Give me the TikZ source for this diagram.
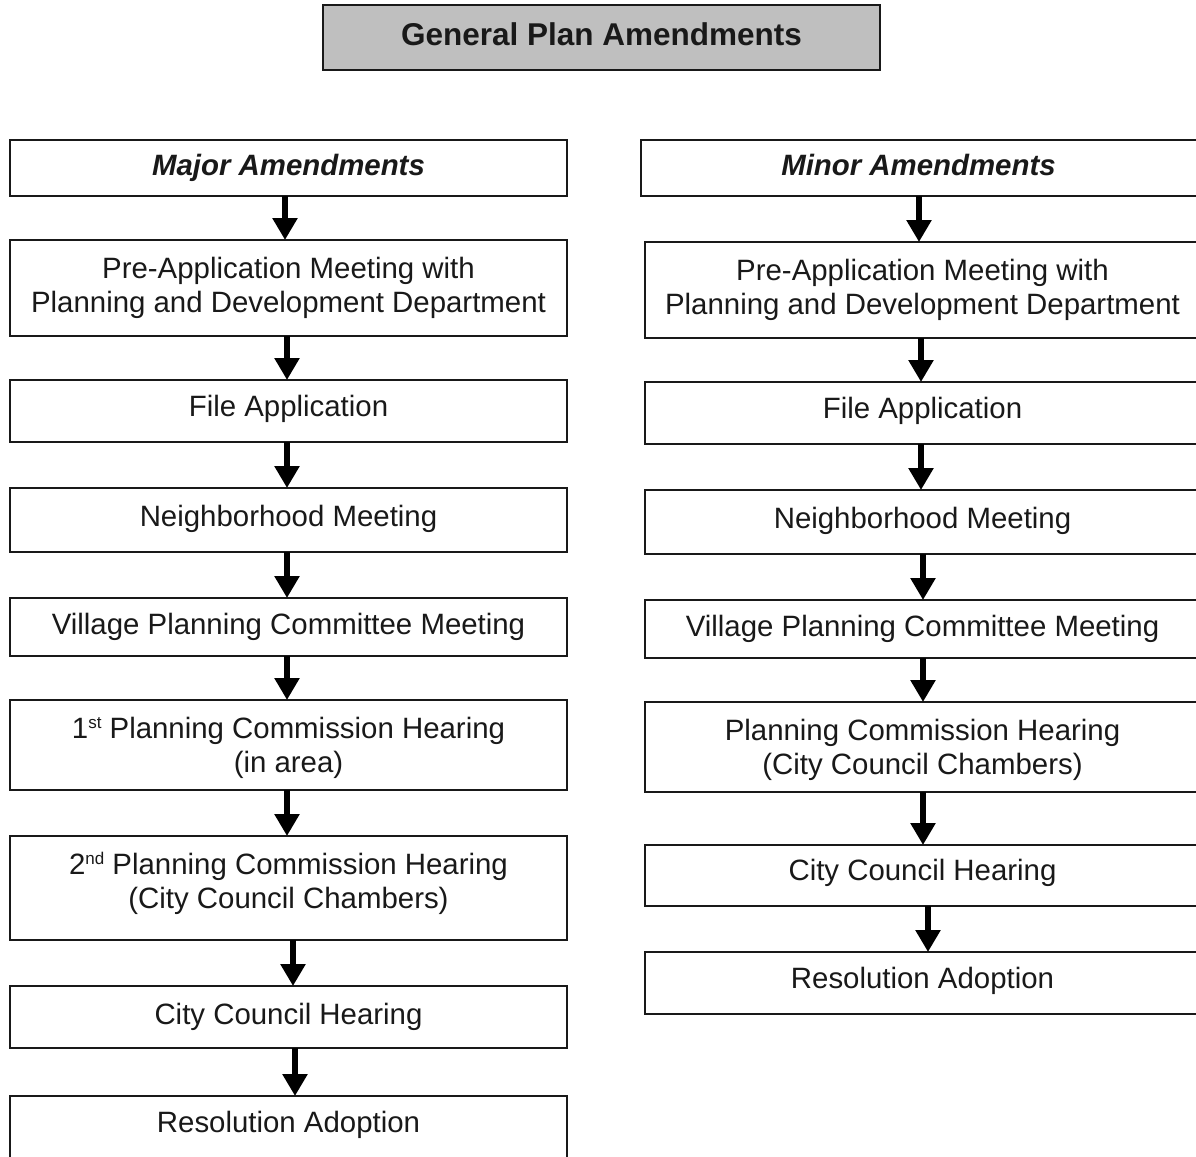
\documentclass[tikz,border=0pt]{standalone}
\usepackage{fontspec}
\setmainfont{Liberation Sans}
\usetikzlibrary{arrows.meta}
\newcommand{\supr}[1]{\raisebox{0.62ex}{\fontsize{17}{17}\selectfont #1}}
\tikzset{
  box/.style={draw=black!90, line width=2pt, inner sep=0pt, outer sep=0pt, fill=white},
  titlebox/.style={box, fill=black!25, line width=2.2pt},
  txt/.style={font=\fontsize{29.4}{34}\selectfont, align=center, inner sep=0pt, anchor=base, text=black!90},
  headtxt/.style={txt, font=\fontsize{29.4}{34}\selectfont\bfseries\itshape},
  flow/.style={line width=6pt, draw=black, -{Triangle[width=24pt,length=22pt]}}
}
\begin{document}
\begin{tikzpicture}[x=1pt,y=-1pt]
\clip (0,0) rectangle (1196,1156);
\fill[white] (0,0) rectangle (1196,1156);
% title
\node[titlebox, minimum width=557pt, minimum height=65pt] (T) at (601.5,37.5) {};
\node[txt, font=\fontsize{31.5}{36}\selectfont\bfseries] (tT) at (601.5,45.5) {General Plan Amendments};
% left column boxes
\node[box, minimum width=557pt, minimum height=56pt]  (L0) at (288.5,168) {};
\node[box, minimum width=557pt, minimum height=96pt]  (L1) at (288.5,288) {};
\node[box, minimum width=557pt, minimum height=62pt]  (L2) at (288.5,411) {};
\node[box, minimum width=557pt, minimum height=64pt]  (L3) at (288.5,520) {};
\node[box, minimum width=557pt, minimum height=58pt]  (L4) at (288.5,627) {};
\node[box, minimum width=557pt, minimum height=90pt]  (L5) at (288.5,745) {};
\node[box, minimum width=557pt, minimum height=104pt] (L6) at (288.5,888) {};
\node[box, minimum width=557pt, minimum height=62pt]  (L7) at (288.5,1017) {};
\node[box, minimum width=557pt, minimum height=80pt]  (L8) at (288.5,1136) {};
% right column boxes
\node[box, minimum width=556pt, minimum height=56pt]  (R0) at (919,168) {};
\node[box, minimum width=556pt, minimum height=96pt]  (R1) at (923,290) {};
\node[box, minimum width=556pt, minimum height=62pt]  (R2) at (923,413) {};
\node[box, minimum width=556pt, minimum height=64pt]  (R3) at (923,522) {};
\node[box, minimum width=556pt, minimum height=58pt]  (R4) at (923,629) {};
\node[box, minimum width=556pt, minimum height=90pt]  (R5) at (923,747) {};
\node[box, minimum width=556pt, minimum height=61pt]  (R6) at (923,875.5) {};
\node[box, minimum width=556pt, minimum height=62pt]  (R7) at (923,983) {};
% left texts
\node[headtxt] (tL0) at (288.5,175) {Major Amendments};
\node[txt] (tL1) at (288.5,312) {Pre-Application Meeting with\\Planning and Development Department};
\node[txt] (tL2) at (288.5,416) {File Application};
\node[txt] (tL3) at (288.5,526) {Neighborhood Meeting};
\node[txt] (tL4) at (288.5,634) {Village Planning Committee Meeting};
\node[txt] (tL5) at (288.5,772) {1\supr{st} Planning Commission Hearing\\(in area)};
\node[txt] (tL6) at (288.5,908) {2\supr{nd} Planning Commission Hearing\\(City Council Chambers)};
\node[txt] (tL7) at (288.5,1024) {City Council Hearing};
\node[txt] (tL8) at (288.5,1132) {Resolution Adoption};
% right texts
\node[headtxt] (tR0) at (918.5,175) {Minor Amendments};
\node[txt] (tR1) at (922.5,314) {Pre-Application Meeting with\\Planning and Development Department};
\node[txt] (tR2) at (922.5,418) {File Application};
\node[txt] (tR3) at (922.5,528) {Neighborhood Meeting};
\node[txt] (tR4) at (922.5,636) {Village Planning Committee Meeting};
\node[txt] (tR5) at (922.5,774) {Planning Commission Hearing\\(City Council Chambers)};
\node[txt] (tR6) at (922.5,880) {City Council Hearing};
\node[txt] (tR7) at (922.5,988) {Resolution Adoption};
% left arrows
\draw[flow] ([xshift=-3.5pt]L0.south) -- ([xshift=-3.5pt]L1.north);
\draw[flow] ([xshift=-1.5pt]L1.south) -- ([xshift=-1.5pt]L2.north);
\draw[flow] ([xshift=-1.5pt]L2.south) -- ([xshift=-1.5pt]L3.north);
\draw[flow] ([xshift=-1.5pt]L3.south) -- ([xshift=-1.5pt]L4.north);
\draw[flow] ([xshift=-1.5pt]L4.south) -- ([xshift=-1.5pt]L5.north);
\draw[flow] ([xshift=-1.5pt]L5.south) -- ([xshift=-1.5pt]L6.north);
\draw[flow] ([xshift=4.5pt]L6.south) -- ([xshift=4.5pt]L7.north);
\draw[flow] ([xshift=6.5pt]L7.south) -- ([xshift=6.5pt]L8.north);
% right arrows
\draw[flow] (R0.south) -- (R0.south |- R1.north);
\draw[flow] ([xshift=-2pt]R1.south) -- ([xshift=-2pt]R2.north);
\draw[flow] ([xshift=-2pt]R2.south) -- ([xshift=-2pt]R3.north);
\draw[flow] (R3.south) -- (R4.north);
\draw[flow] (R4.south) -- (R5.north);
\draw[flow] (R5.south) -- (R6.north);
\draw[flow] ([xshift=5pt]R6.south) -- ([xshift=5pt]R7.north);
\end{tikzpicture}
\end{document}
